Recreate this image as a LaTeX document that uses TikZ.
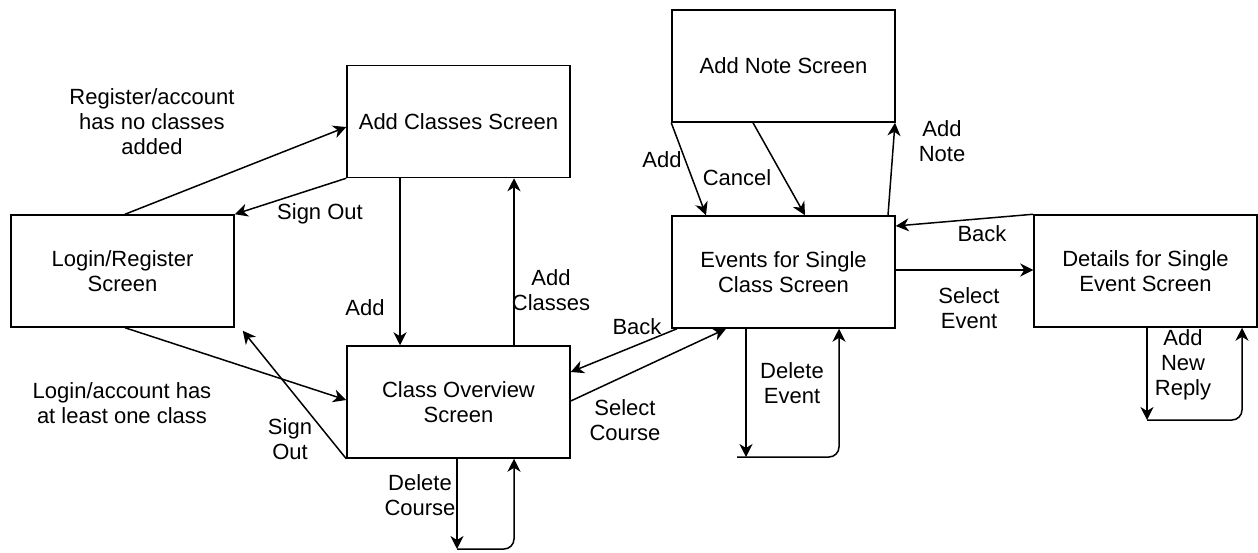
\documentclass[tikz,border=0pt]{standalone}
\usepackage{fontspec}
\setmainfont{Liberation Sans}
\usetikzlibrary{arrows.meta}
\newcommand\myfs{\fontsize{22}{25}\selectfont}
\begin{document}
\begin{tikzpicture}[x=1pt,y=-1pt,
  box/.style={draw,line width=1.5pt,minimum width=223pt,minimum height=112pt,align=center,font=\myfs,inner sep=0pt},
  lbl/.style={align=center,font=\myfs,inner sep=0pt},
  arr/.style={line width=1.5pt,-{Stealth[length=13pt,width=13pt,inset=4pt]}}]
\useasboundingbox (0,0) rectangle (1258,553);
% boxes
\node[box] (login) at (122.5,271) {Login/Register\\Screen};
\node[box] (addc) at (458.5,121.5) {Add Classes Screen};
\node[box] (ov) at (458.5,402) {Class Overview\\Screen};
\node[box] (ev) at (783.5,272) {Events for Single\\Class Screen};
\node[box] (note) at (783.5,66) {Add Note Screen};
\node[box] (det) at (1145.5,271) {Details for Single\\Event Screen};
% connectors
\draw[arr] (login.north -| 125,0) -- (addc.west |- 0,127);
\draw[arr] (addc.south west) -- (login.north east);
\draw[arr] (addc.south -| 400,0) -- (ov.north -| 400,0);
\draw[arr] (ov.north -| 514,0) -- (addc.south -| 514,0);
\draw[arr] (login.south -| 125,0) -- (ov.west |- 0,400);
\draw[arr] (ov.south west) -- ([xshift=8pt,yshift=-3pt]login.south east);
\draw[arr] (ov.east |- 0,401) -- (ev.south -| 726,0);
\draw[arr] (ev.south -| 677,0) -- (ov.east |- 0,372);
\draw[arr] (note.south west) -- (ev.north -| 706,0);
\draw[arr] (note.south -| 753,0) -- (ev.north -| 805,0);
\draw[arr] (ev.north -| 888,0) -- (note.south -| 895,0);
\draw[arr] (ev.east |- 0,270) -- (det.west |- 0,270);
\draw[arr] (det.north west) -- (ev.east |- 0,226);
% self loops
\coordinate (l1) at (457,549);
\draw[arr] (ov.south -| 457,0) -- (l1);
\draw[arr,rounded corners=10pt] (l1) -- (514,549) -- (ov.south -| 514,0);
\coordinate (l2) at (746,457);
\draw[arr] (ev.south -| 746,0) -- (l2);
\draw[arr,rounded corners=10pt] ([xshift=-9pt]l2) -- (839,457) -- (ev.south -| 839,0);
\coordinate (l3) at (1147,420);
\draw[arr] (det.south -| 1147,0) -- (l3);
\draw[arr,rounded corners=10pt] (l3) -- (1242,420) -- (det.south -| 1242,0);
% labels
\node[lbl] (t1) at (152,122) {Register/account\\has no classes\\added};
\node[lbl] (t2) at (320,214) {Sign Out};
\node[lbl] (t3) at (365,308) {Add};
\node[lbl] (t4) at (551,290.5) {Add\\Classes};
\node[lbl] (t5) at (122,403.5) {Login/account has\\at least one class};
\node[lbl] (t6) at (290,439.5) {Sign\\Out};
\node[lbl] (t7) at (420,495.5) {Delete\\Course};
\node[lbl] (t8) at (625,420.5) {Select\\Course};
\node[lbl] (t9) at (637,327) {Back};
\node[lbl] (t10) at (792,383.5) {Delete\\Event};
\node[lbl] (t11) at (662,160) {Add};
\node[lbl] (t12) at (737,178) {Cancel};
\node[lbl] (t13) at (942,141.5) {Add\\Note};
\node[lbl] (t14) at (982,234) {Back};
\node[lbl] (t15) at (969,308) {Select\\Event};
\node[lbl] (t16) at (1183,364.5) {Add\\New\\Reply};
\end{tikzpicture}
\end{document}
